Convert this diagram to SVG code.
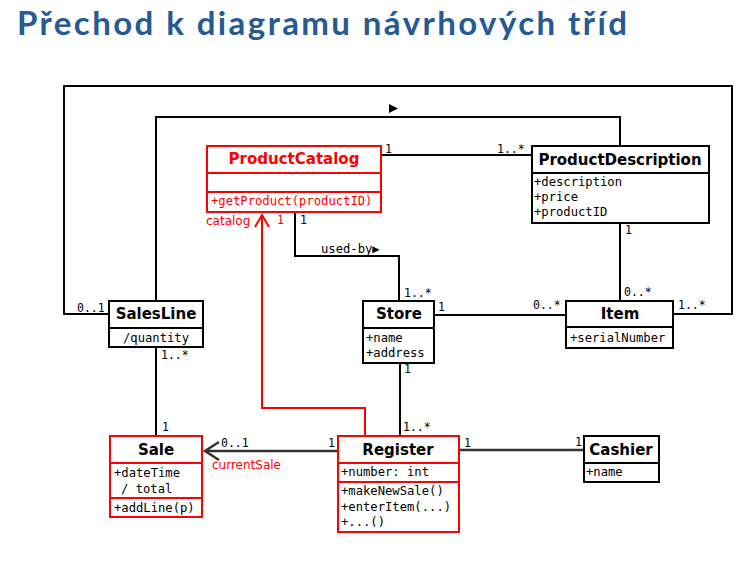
<svg xmlns="http://www.w3.org/2000/svg" width="752" height="562" viewBox="0 0 752 562">
<style>
.bg{fill:#ffffff}
.title{font-family:Lato,"Open Sans",sans-serif;font-weight:bold;font-size:33px;fill:#265a92}
.box{fill:#ffffff;stroke:#000;stroke-width:2}
.rbox{fill:#ffffff;stroke:#ff0000;stroke-width:2}
.sep{stroke:#000;stroke-width:2}
.rsep{stroke:#ff0000;stroke-width:2}
.name{font-family:"DejaVu Sans",sans-serif;font-weight:bold;font-size:15px;fill:#000;text-anchor:middle}
.rname{font-family:"DejaVu Sans",sans-serif;font-weight:bold;font-size:15px;fill:#ff0000;text-anchor:middle}
.attr{font-family:"DejaVu Sans Mono",monospace;font-size:12.2px;fill:#000}
.rattr{font-family:"DejaVu Sans Mono",monospace;font-size:12.2px;fill:#ff0000}
.mult{font-family:"DejaVu Sans Mono",monospace;font-size:11.5px;fill:#000}
.rmult{font-family:"DejaVu Sans Mono",monospace;font-size:11.5px;fill:#ff0000}
.rlab{font-family:"DejaVu Sans",sans-serif;font-size:12px;fill:#ff0000}
.line{fill:none;stroke:#000;stroke-width:2}
.rline{fill:none;stroke:#ff0000;stroke-width:2}
</style>
<rect class="bg" x="0" y="0" width="752" height="562"/>
<text class="title" x="17" y="35" textLength="610">Přechod k diagramu návrhových tříd</text>

<g id="connectors">
  <path class="line" d="M109,314 H64 V86 H732 V314 H673"/>
  <path class="line" d="M156,301 V117 H620 V146"/>
  <polygon points="389,104 398,108.5 389,113" fill="#000"/>
  <path class="line" d="M381,155 H532"/>
  <path class="line" d="M620,223 V301"/>
  <path class="line" d="M295,212 V256 H399 V301"/>
  <path class="line" d="M434,315 H566"/>
  <path class="line" d="M156,347 V436"/>
  <path class="line" d="M400,363 V436"/>
  <path class="rline" d="M365,436 V408 H262 V215"/>
  <path class="rline" d="M255,227 L262,215 L269,227"/>
  <path d="M338,451 H206" fill="none" stroke="#333" stroke-width="2.5"/>
  <path d="M219,442 L205,451 L219,460" fill="none" stroke="#333" stroke-width="2.5"/>
  <path d="M459,450 H584" fill="none" stroke="#333" stroke-width="2.5"/>
  <text class="mult" x="385" y="153">1</text>
  <text class="mult" x="497" y="153">1..*</text>
  <text class="mult" x="625" y="234">1</text>
  <text class="mult" x="624" y="296">0..*</text>
  <text class="mult" x="533" y="309">0..*</text>
  <text class="mult" x="678" y="309">1..*</text>
  <text class="mult" x="77" y="312">0..1</text>
  <text class="mult" x="161" y="359">1..*</text>
  <text class="mult" x="162" y="431">1</text>
  <text class="rlab" x="206" y="225">catalog</text>
  <text class="rmult" x="277" y="224">1</text>
  <text class="mult" x="300" y="224">1</text>
  <text class="attr" x="321" y="253">used-by▶</text>
  <text class="mult" x="404" y="297">1..*</text>
  <text class="mult" x="438" y="311">1</text>
  <text class="mult" x="404" y="373">1</text>
  <text class="mult" x="403" y="431">1..*</text>
  <text class="mult" x="221" y="447">0..1</text>
  <text class="rlab" x="212" y="469">currentSale</text>
  <text class="mult" x="328" y="447">1</text>
  <text class="mult" x="464" y="447">1</text>
  <text class="mult" x="575" y="446">1</text>
</g>

<g id="ProductCatalog">
  <rect class="rbox" x="207" y="146" width="174" height="66"/>
  <line class="rsep" x1="207" y1="173" x2="381" y2="173"/>
  <line class="rsep" x1="207" y1="192" x2="381" y2="192"/>
  <text class="rname" x="294" y="164">ProductCatalog</text>
  <text class="rattr" x="211" y="205">+getProduct(productID)</text>
</g>

<g id="ProductDescription">
  <rect class="box" x="532" y="146" width="177" height="77"/>
  <line class="sep" x1="532" y1="173" x2="709" y2="173"/>
  <text class="name" x="620" y="165">ProductDescription</text>
  <text class="attr" x="534" y="186">+description</text>
  <text class="attr" x="534" y="201">+price</text>
  <text class="attr" x="534" y="216">+productID</text>
</g>

<g id="SalesLine">
  <rect class="box" x="109" y="301" width="94" height="46"/>
  <line class="sep" x1="109" y1="328" x2="203" y2="328"/>
  <text class="name" x="156" y="319">SalesLine</text>
  <text class="attr" x="156" y="342" text-anchor="middle">/quantity</text>
</g>

<g id="Store">
  <rect class="box" x="363" y="301" width="71" height="62"/>
  <line class="sep" x1="363" y1="328" x2="434" y2="328"/>
  <text class="name" x="399" y="319">Store</text>
  <text class="attr" x="366" y="342">+name</text>
  <text class="attr" x="366" y="357">+address</text>
</g>

<g id="Item">
  <rect class="box" x="566" y="301" width="107" height="47"/>
  <line class="sep" x1="566" y1="327" x2="673" y2="327"/>
  <text class="name" x="620" y="319">Item</text>
  <text class="attr" x="570" y="342">+serialNumber</text>
</g>

<g id="Sale">
  <rect class="rbox" x="110" y="436" width="92" height="81"/>
  <line class="rsep" x1="110" y1="463" x2="202" y2="463"/>
  <line class="rsep" x1="110" y1="498" x2="202" y2="498"/>
  <text class="name" x="156" y="455">Sale</text>
  <text class="attr" x="114" y="477">+dateTime</text>
  <text class="attr" x="121" y="493">/ total</text>
  <text class="attr" x="114" y="512">+addLine(p)</text>
</g>

<g id="Register">
  <rect class="rbox" x="338" y="436" width="121" height="96"/>
  <line class="rsep" x1="338" y1="463" x2="459" y2="463"/>
  <line class="rsep" x1="338" y1="482" x2="459" y2="482"/>
  <text class="name" x="398" y="455">Register</text>
  <text class="attr" x="341" y="476">+number: int</text>
  <text class="attr" x="341" y="495">+makeNewSale()</text>
  <text class="attr" x="341" y="511">+enterItem(...)</text>
  <text class="attr" x="341" y="526">+...()</text>
</g>

<g id="Cashier">
  <rect class="box" x="584" y="436" width="75" height="46"/>
  <line class="sep" x1="584" y1="463" x2="659" y2="463"/>
  <text class="name" x="621" y="455">Cashier</text>
  <text class="attr" x="586" y="476">+name</text>
</g>
</svg>
